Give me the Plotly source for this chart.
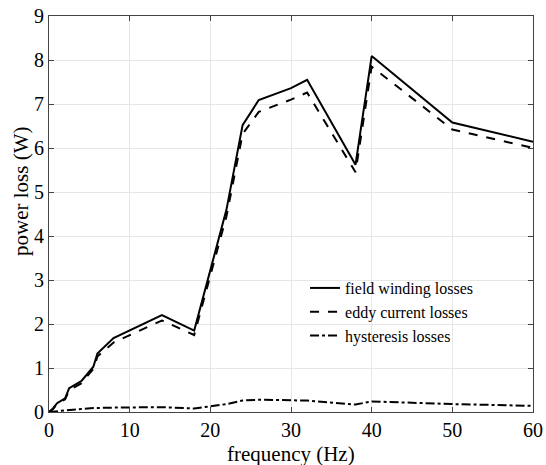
import plotly.graph_objects as go

freq = [0, 0.5, 1, 1.5, 2, 2.5, 4, 5.5, 6, 8, 14, 18, 22, 24, 26, 30, 32, 38, 40, 50, 60]
field_winding = [0, 0.08, 0.2, 0.26, 0.31, 0.54, 0.7, 1.03, 1.33, 1.68, 2.2, 1.85, 4.6, 6.52, 7.09, 7.36, 7.55, 5.62, 8.09, 6.58, 6.14]
eddy_current = [0, 0.07, 0.18, 0.24, 0.29, 0.5, 0.65, 0.98, 1.26, 1.58, 2.08, 1.75, 4.45, 6.32, 6.82, 7.1, 7.26, 5.45, 7.85, 6.42, 6.0]
hysteresis = [0, 0.01, 0.02, 0.03, 0.04, 0.05, 0.07, 0.09, 0.09, 0.1, 0.11, 0.08, 0.18, 0.26, 0.28, 0.27, 0.26, 0.17, 0.24, 0.18, 0.14]

x_ticks = [0, 10, 20, 30, 40, 50, 60]
y_ticks = [0, 1, 2, 3, 4, 5, 6, 7, 8, 9]

font_family = "Liberation Serif"

fig = go.Figure()
fig.add_trace(go.Scatter(x=freq, y=field_winding, mode="lines", name="field winding losses",
                         line=dict(color="black", width=2, dash="solid")))
fig.add_trace(go.Scatter(x=freq, y=eddy_current, mode="lines", name="eddy current losses",
                         line=dict(color="black", width=2, dash="dash")))
fig.add_trace(go.Scatter(x=freq, y=hysteresis, mode="lines", name="hysteresis losses",
                         line=dict(color="black", width=2, dash="dashdot")))

axis_common = dict(
    showgrid=True, gridcolor="#e6e6e6", gridwidth=1,
    showline=True, linecolor="#444444", linewidth=1, mirror="ticks",
    ticks="inside", ticklen=5, tickcolor="#444444",
    zeroline=False, automargin=False,
    tickfont=dict(family=font_family, size=20, color="black"),
)

fig.update_layout(
    width=546, height=465,
    margin=dict(l=49, r=13, t=16, b=53),
    paper_bgcolor="white", plot_bgcolor="white",
    font=dict(family=font_family, color="black"),
    xaxis=dict(range=[0, 60], tickvals=x_ticks, ticklabelstandoff=0, **axis_common),
    yaxis=dict(range=[0, 9], tickvals=y_ticks, **axis_common),
    legend=dict(x=0.529, y=0.356, xanchor="left", yanchor="top",
                bgcolor="rgba(255,255,255,0)", borderwidth=0,
                font=dict(family=font_family, size=16, color="black"),
                itemwidth=30, tracegroupgap=0),
    showlegend=True,
    annotations=[
        dict(text="power loss (W)", textangle=-90, xref="paper", yref="paper",
             x=-0.058, y=0.558, xanchor="center", yanchor="middle", showarrow=False,
             font=dict(family=font_family, size=21, color="black")),
        dict(text="frequency (Hz)", xref="paper", yref="paper",
             x=0.5, y=-0.106, xanchor="center", yanchor="middle", showarrow=False,
             font=dict(family=font_family, size=21, color="black")),
    ],
)

fig.write_html("out.html")
